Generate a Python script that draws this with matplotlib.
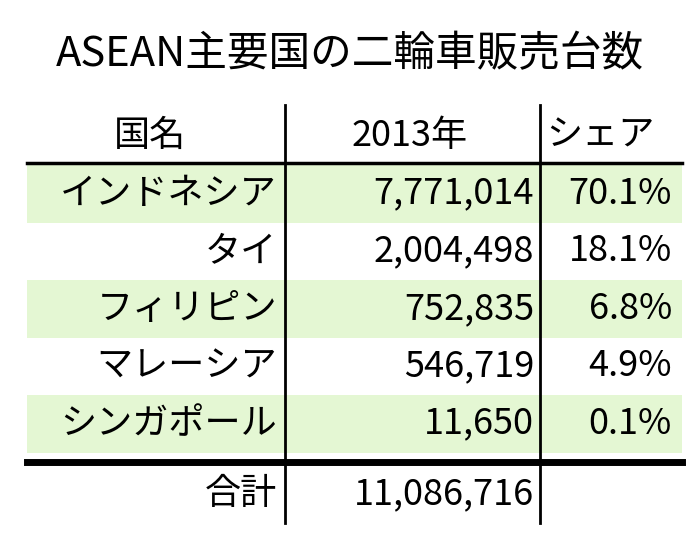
import matplotlib
matplotlib.use("Agg")
import matplotlib.pyplot as plt
from matplotlib.patches import Rectangle

title = "ASEAN主要国の二輪車販売台数"
headers = ["国名", "2013年", "シェア"]
countries = ["インドネシア", "タイ", "フィリピン", "マレーシア", "シンガポール"]
sales = ["7,771,014", "2,004,498", "752,835", "546,719", "11,650"]
shares = ["70.1%", "18.1%", "6.8%", "4.9%", "0.1%"]
total_label = "合計"
total_value = "11,086,716"

FONT = "Noto Sans CJK JP"
GREEN = "#E4F7D3"
FS = 26

fig = plt.figure(figsize=(7, 5.47), dpi=100)
ax = fig.add_axes([0, 0, 1, 1])
ax.set_xlim(0, 700)
ax.set_ylim(547, 0)
ax.axis("off")

ax.text(350, 55, title, ha="center", va="center", fontsize=30, family=FONT)

left, right = 27, 682
c1, c2 = 285, 540
top_rows = 165
rh = 57.5

ax.text(150, 136, headers[0], ha="center", va="center", fontsize=FS, family=FONT)
ax.text(410, 136, headers[1], ha="center", va="center", fontsize=FS, family=FONT)
ax.text(600, 136, headers[2], ha="center", va="center", fontsize=FS, family=FONT)

for i, (c, s, p) in enumerate(zip(countries, sales, shares)):
    y0 = top_rows + i * rh
    if i % 2 == 0:
        ax.add_patch(Rectangle((left, y0), right - left, rh, color=GREEN, lw=0, zorder=0))
    yc = y0 + rh / 2
    ax.text(c1 - 8, yc, c, ha="right", va="center", fontsize=FS, family=FONT)
    ax.text(c2 - 6, yc, s, ha="right", va="center", fontsize=FS, family=FONT)
    ax.text(right - 10, yc, p, ha="right", va="center", fontsize=FS, family=FONT)

ax.text(c1 - 8, 494, total_label, ha="right", va="center", fontsize=FS, family=FONT)
ax.text(c2 - 6, 494, total_value, ha="right", va="center", fontsize=FS, family=FONT)

ax.plot([left, right], [top_rows - 2, top_rows - 2], color="black", lw=2.5)
ax.plot([left, right], [462, 462], color="black", lw=5)
ax.plot([c1, c1], [105, 523], color="black", lw=2)
ax.plot([c2, c2], [105, 523], color="black", lw=2)

fig.savefig("out.png", dpi=100)
